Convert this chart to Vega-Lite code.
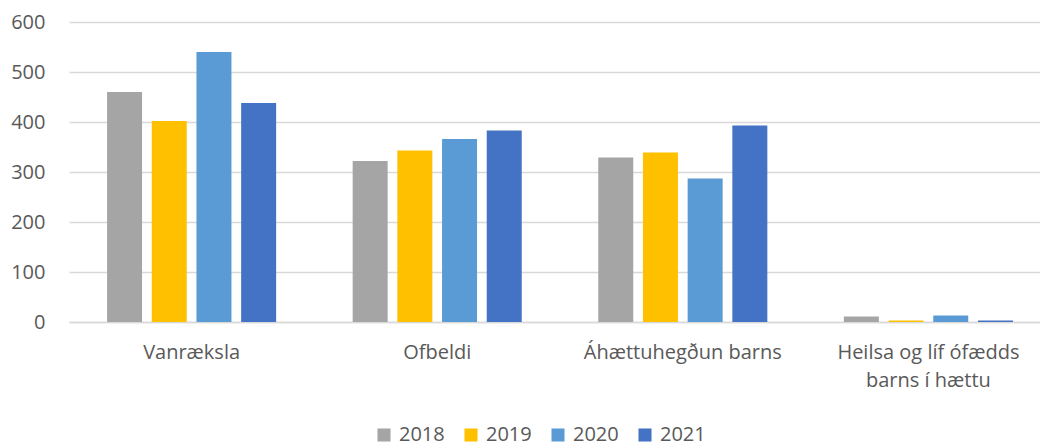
{
  "$schema": "https://vega.github.io/schema/vega-lite/v6.json",
  "width": 971,
  "height": 300,
  "autosize": {"type": "none"},
  "padding": {"left": 69, "top": 22, "right": 0, "bottom": 124},
  "background": "white",
  "data": {
    "values": [
      {"flokkur": "Vanræksla", "ar": "2018", "fjoldi": 460},
      {"flokkur": "Vanræksla", "ar": "2019", "fjoldi": 402},
      {"flokkur": "Vanræksla", "ar": "2020", "fjoldi": 540},
      {"flokkur": "Vanræksla", "ar": "2021", "fjoldi": 438},
      {"flokkur": "Ofbeldi", "ar": "2018", "fjoldi": 322},
      {"flokkur": "Ofbeldi", "ar": "2019", "fjoldi": 343},
      {"flokkur": "Ofbeldi", "ar": "2020", "fjoldi": 366},
      {"flokkur": "Ofbeldi", "ar": "2021", "fjoldi": 383},
      {"flokkur": "Áhættuhegðun barns", "ar": "2018", "fjoldi": 329},
      {"flokkur": "Áhættuhegðun barns", "ar": "2019", "fjoldi": 339},
      {"flokkur": "Áhættuhegðun barns", "ar": "2020", "fjoldi": 287},
      {"flokkur": "Áhættuhegðun barns", "ar": "2021", "fjoldi": 393},
      {"flokkur": "Heilsa og líf ófædds barns í hættu", "ar": "2018", "fjoldi": 11},
      {"flokkur": "Heilsa og líf ófædds barns í hættu", "ar": "2019", "fjoldi": 3},
      {"flokkur": "Heilsa og líf ófædds barns í hættu", "ar": "2020", "fjoldi": 13},
      {"flokkur": "Heilsa og líf ófædds barns í hættu", "ar": "2021", "fjoldi": 3}
    ]
  },
  "config": {
    "font": "Open Sans",
    "view": {"stroke": null}
  },
  "mark": {"type": "bar"},
  "encoding": {
    "x": {
      "field": "flokkur",
      "type": "nominal",
      "sort": null,
      "title": null,
      "scale": {"paddingInner": 0.3116, "paddingOuter": 0.155, "range": [0, 982]},
      "axis": {
        "labelAngle": 0,
        "labelFontSize": 20,
        "labelColor": "#595959",
        "labelPadding": 20,
        "labelLimit": 0,
        "ticks": false,
        "domainColor": "#d9d9d9",
        "domainWidth": 1.5,
        "labelLineHeight": 28,
        "labelExpr": "datum.label == 'Heilsa og líf ófædds barns í hættu' ? ['Heilsa og líf ófædds', 'barns í hættu'] : datum.label"
      }
    },
    "xOffset": {
      "field": "ar",
      "type": "nominal",
      "scale": {"paddingInner": 0.217, "paddingOuter": 0}
    },
    "y": {
      "field": "fjoldi",
      "type": "quantitative",
      "title": null,
      "scale": {"domain": [0, 600]},
      "axis": {
        "values": [0, 100, 200, 300, 400, 500, 600],
        "labelFontSize": 20,
        "labelColor": "#595959",
        "labelPadding": 24,
        "ticks": false,
        "domain": false,
        "gridColor": "#d9d9d9",
        "gridWidth": 1.5
      }
    },
    "color": {
      "field": "ar",
      "type": "nominal",
      "title": null,
      "scale": {
        "domain": ["2018", "2019", "2020", "2021"],
        "range": ["#a5a5a5", "#ffc000", "#5b9bd5", "#4472c4"]
      },
      "legend": {
        "orient": "none",
        "legendX": 305,
        "legendY": 403,
        "direction": "horizontal",
        "symbolType": "square",
        "symbolSize": 170,
        "symbolStrokeWidth": 0,
        "labelFontSize": 20,
        "labelColor": "#595959",
        "labelOffset": 5,
        "columnPadding": 16
      }
    }
  }
}
